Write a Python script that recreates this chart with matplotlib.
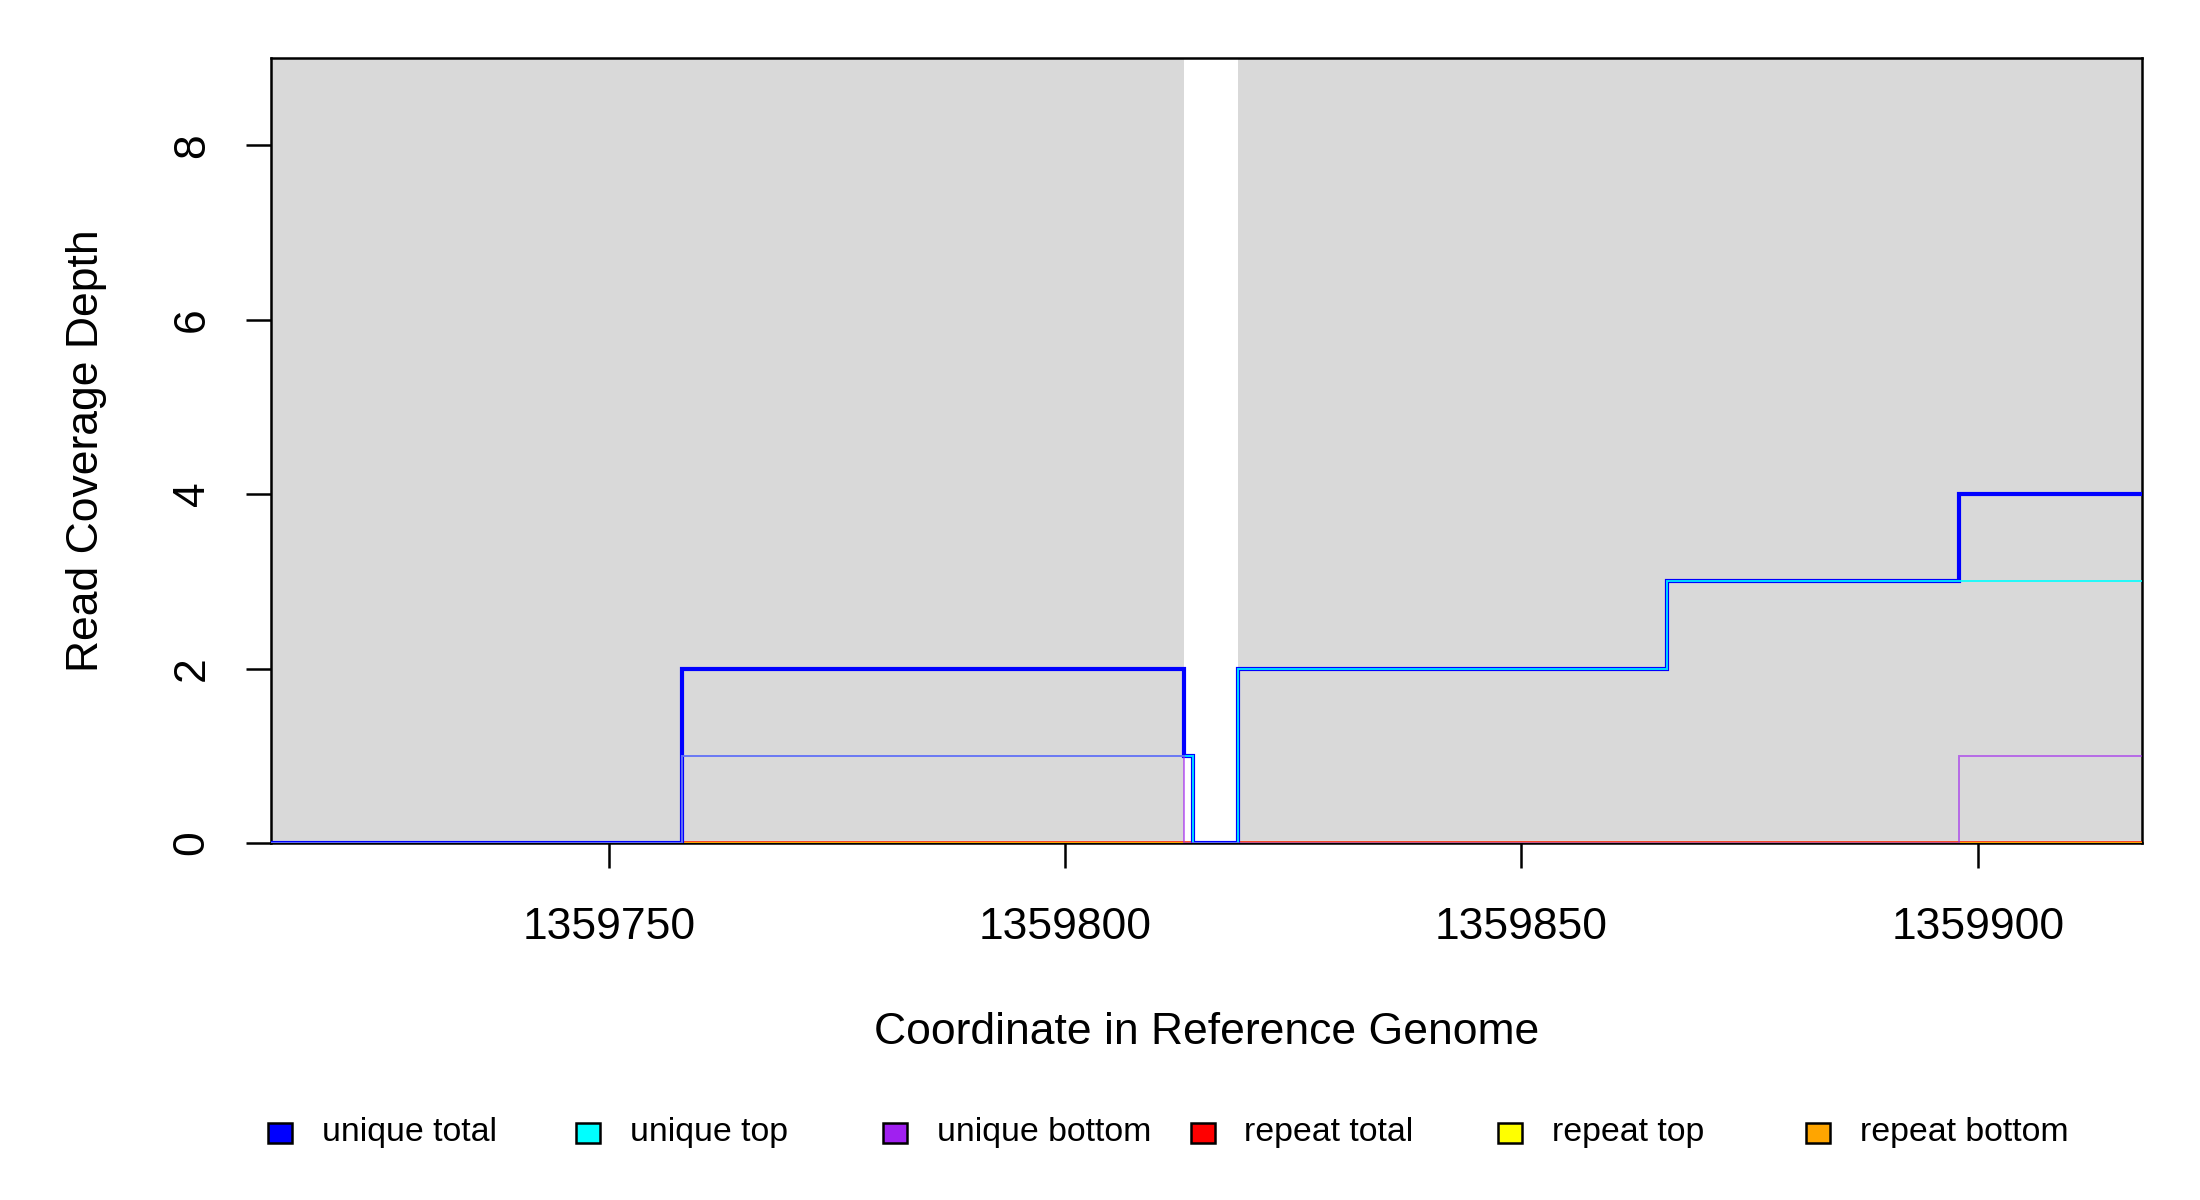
import matplotlib
matplotlib.use("Agg")
import matplotlib.pyplot as plt
from matplotlib.patches import Rectangle

plt.rcParams['font.family'] = ['Liberation Sans', 'DejaVu Sans']

# coverage regions (gray), gap in between stays white
covered = [(1359713, 1359813), (1359819, 1359918)]

# step series: edges + values
ut_edges = [1359713, 1359758, 1359813, 1359814, 1359819, 1359866, 1359898, 1359918]
ut_vals = [0, 2, 1, 0, 2, 3, 4]
utop_edges = [1359713, 1359758, 1359814, 1359819, 1359866, 1359918]
utop_vals = [0, 1, 0, 2, 3]
ub_edges = [1359713, 1359758, 1359813, 1359898, 1359918]
ub_vals = [0, 1, 0, 1]

# repeat series (all zero), two stretches
rep_segments = [(1359758, 1359814), (1359819, 1359918)]
rep_vals = [0]

legend_labels = ["unique total", "unique top", "unique bottom",
                 "repeat total", "repeat top", "repeat bottom"]
legend_colors = ["#0000FF", "#00FFFF", "#A020F0", "#FF0000", "#FFFF00", "#FFA500"]

xticks = [1359750, 1359800, 1359850, 1359900]
yticks = [0, 2, 4, 6, 8]

W, H = 2200, 1200
fig = plt.figure(figsize=(11, 6), dpi=200)
ax = fig.add_axes([271/W, 1 - 843/H, (2142-271)/W, (843-58)/H])

for a, b in covered:
    ax.axvspan(a, b, color="#D9D9D9", lw=0, zorder=0)

# repeats underneath the unique lines, but above the frame
for a, b in rep_segments:
    ax.stairs(rep_vals, [a, b], color="#FF0000", lw=1.4, alpha=0.8, baseline=None, zorder=3)
    ax.stairs(rep_vals, [a, b], color="#FFFF00", lw=1.2, alpha=0.6, baseline=None, zorder=3)
    ax.stairs(rep_vals, [a, b], color="#FFA500", lw=1.1, alpha=0.85, baseline=None, zorder=3)

ax.stairs(ut_vals, ut_edges, color="#0000FF", lw=1.5, baseline=None, zorder=4)
ax.stairs(utop_vals, utop_edges, color="#00FFFF", lw=0.7, alpha=0.85, baseline=None, zorder=5)
ax.stairs(ub_vals, ub_edges, color="#A020F0", lw=0.7, alpha=0.6, baseline=None, zorder=6)

ax.set_xlim(1359713, 1359918)
ax.set_ylim(0, 9)
ax.set_facecolor("white")
for s in ax.spines.values():
    s.set_linewidth(0.9)
    s.set_color("black")
    s.set_zorder(2.5)

ax.set_xticks(xticks)
ax.set_xticklabels([str(v) for v in xticks])
ax.set_yticks(yticks)
ax.set_yticklabels([str(v) for v in yticks], rotation=90, va="center")
ax.tick_params(axis="both", direction="out", length=9, width=0.9, labelsize=16)
ax.tick_params(axis="x", pad=14)
ax.tick_params(axis="y", pad=12)

fig.text((271+2142)/2/W, 1 - 1032/H, "Coordinate in Reference Genome",
         ha="center", va="center", fontsize=16)
fig.text(87/W, 1 - 451/H, "Read Coverage Depth", rotation=90,
         ha="center", va="center", fontsize=16)

# legend row along the bottom
for i, (lab, col) in enumerate(zip(legend_labels, legend_colors)):
    cx = 280 + i*307.5
    fig.patches.append(Rectangle(((cx-12)/W, 1 - (1133+10)/H), 24/W, 20/H,
                                 transform=fig.transFigure, facecolor=col,
                                 edgecolor="black", lw=0.9))
    fig.text((cx+42)/W, 1 - 1133/H, lab, ha="left", va="center", fontsize=12.2)

fig.savefig("out.png", dpi=200)
